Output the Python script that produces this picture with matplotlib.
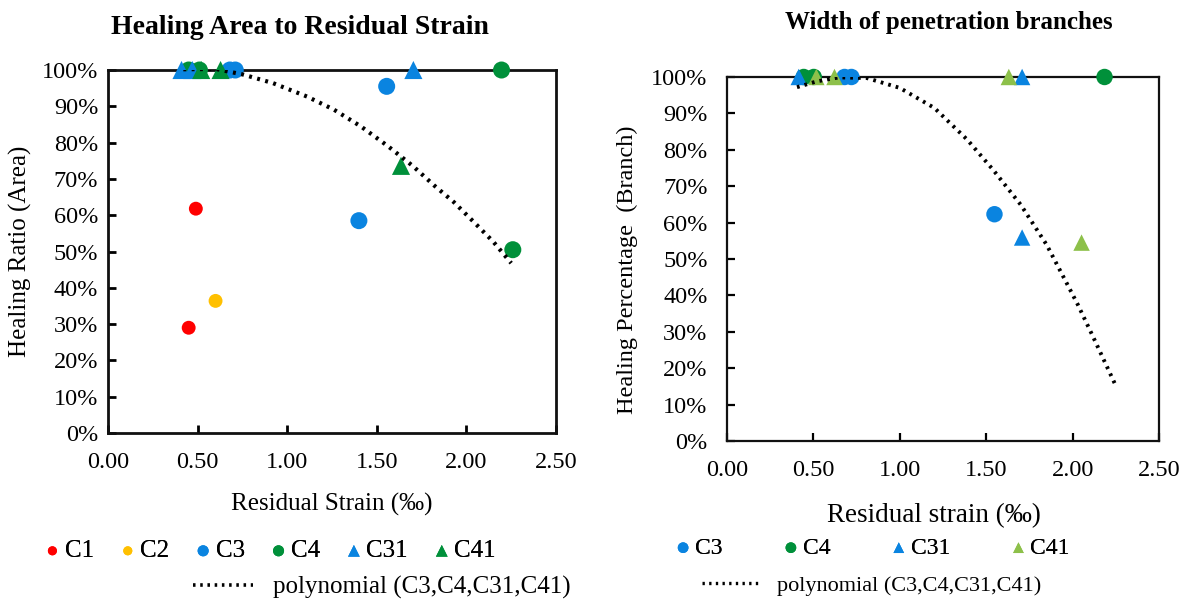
import matplotlib
matplotlib.use("Agg")
import matplotlib.pyplot as plt
from matplotlib.lines import Line2D

plt.rcParams['font.family'] = ['Liberation Serif', 'DejaVu Serif']

# ---- left chart: healing area ----
c1_x = [0.49, 0.45]
c1_y = [0.618, 0.29]
c2_x = [0.60]
c2_y = [0.364]
c3_x = [0.68, 0.71, 1.555, 1.40]
c3_y = [1.0, 1.0, 0.955, 0.585]
c4_x = [0.45, 0.51, 2.196, 2.259]
c4_y = [1.0, 1.0, 1.0, 0.505]
c31_x = [0.41, 0.47, 1.704]
c31_y = [1.0, 1.0, 1.0]
c41_x = [0.52, 0.628, 1.635]
c41_y = [1.0, 1.0, 0.736]
# trendline
trend_l_x = [0.42, 0.60, 0.75, 0.92, 1.11, 1.26, 1.41, 1.56, 1.70, 1.82, 1.93, 2.04, 2.15, 2.25]
trend_l_y = [1.002, 1.003, 0.988, 0.964, 0.927, 0.891, 0.845, 0.791, 0.736, 0.682, 0.636, 0.582, 0.527, 0.468]

# ---- right chart: penetration branches ----
r_c3_x = [0.68, 0.72, 1.548]
r_c3_y = [1.0, 1.0, 0.623]
r_c4_x = [0.444, 0.502, 2.185]
r_c4_y = [1.0, 1.0, 1.0]
r_c31_x = [0.415, 1.708, 1.708]
r_c31_y = [1.0, 1.0, 0.559]
r_c41_x = [0.517, 0.622, 1.631, 2.052]
r_c41_y = [1.0, 1.0, 1.0, 0.545]
trend_r_x = [0.405, 0.52, 0.65, 0.81, 1.0, 1.2, 1.39, 1.54, 1.70, 1.85, 1.97, 2.03, 2.12, 2.255]
trend_r_y = [0.972, 0.988, 0.999, 0.997, 0.970, 0.915, 0.828, 0.745, 0.649, 0.539, 0.430, 0.375, 0.285, 0.147]

xticks = [0, 0.5, 1.0, 1.5, 2.0, 2.5]
xtick_labels = ['0.00', '0.50', '1.00', '1.50', '2.00', '2.50']
yticks = [i / 10 for i in range(11)]
ytick_labels = ['%d%%' % (i * 10) for i in range(11)]

red = '#FF0000'
orange = '#FFC000'
blue = '#0A84E0'
green = '#00903A'
lgreen = '#8DC04A'

fig = plt.figure(figsize=(11.86, 6.01), dpi=100)
ax1 = fig.add_axes([0.0911, 0.2795, 0.3777, 0.604])
ax2 = fig.add_axes([0.613, 0.2662, 0.3642, 0.6057])

dot = (0, (0.7, 1.3))


def style(ax, lw, fs, ypad):
    ax.set_xlim(0, 2.5)
    ax.set_ylim(0, 1)
    ax.set_xticks(xticks)
    ax.set_xticklabels(xtick_labels)
    ax.set_yticks(yticks)
    ax.set_yticklabels(ytick_labels)
    for s in ax.spines.values():
        s.set_linewidth(lw)
        s.set_color('#111111')
    ax.tick_params(direction='in', length=6, width=lw, labelsize=fs,
                   top=False, right=False)
    ax.tick_params(axis='x', pad=14)
    ax.tick_params(axis='y', pad=ypad)


# left
s1 = ax1.scatter(c1_x, c1_y, s=100, color=red, edgecolors='none', clip_on=False, zorder=3)
s2 = ax1.scatter(c2_x, c2_y, s=100, color=orange, edgecolors='none', clip_on=False, zorder=3)
s3 = ax1.scatter(c3_x, c3_y, s=150, color=blue, edgecolors='none', clip_on=False, zorder=3)
s4 = ax1.scatter(c4_x, c4_y, s=150, color=green, edgecolors='none', clip_on=False, zorder=3)
s31 = ax1.scatter(c31_x, c31_y, s=170, marker='^', color=blue, edgecolors='none', clip_on=False, zorder=3)
s41 = ax1.scatter(c41_x, c41_y, s=170, marker='^', color=green, edgecolors='none', clip_on=False, zorder=3)
t1, = ax1.plot(trend_l_x, trend_l_y, color='black', lw=3.0, linestyle=dot, zorder=4)
style(ax1, 2.0, 17.5, 7)
ax1.set_xlabel('Residual Strain (‰)', fontsize=18)
ax1.set_ylabel('Healing Ratio (Area)', fontsize=18)
ax1.xaxis.set_label_coords(0.5, -0.165)
ax1.yaxis.set_label_coords(-0.17, 0.5)
fig.text(0.253, 0.955, 'Healing Area to Residual Strain', fontsize=20,
         fontweight='bold', ha='center', va='center')

# right
r3 = ax2.scatter(r_c3_x, r_c3_y, s=140, color=blue, edgecolors='none', clip_on=False, zorder=3)
r4 = ax2.scatter(r_c4_x, r_c4_y, s=140, color=green, edgecolors='none', clip_on=False, zorder=3)
r31 = ax2.scatter(r_c31_x, r_c31_y, s=140, marker='^', color=blue, edgecolors='none', clip_on=False, zorder=3)
r41 = ax2.scatter(r_c41_x, r_c41_y, s=140, marker='^', color=lgreen, edgecolors='none', clip_on=False, zorder=3)
t2, = ax2.plot(trend_r_x, trend_r_y, color='black', lw=2.8, linestyle=dot, zorder=4)
style(ax2, 1.6, 17.5, 14)
ax2.set_xlabel('Residual strain (‰)', fontsize=19.5)
ax2.set_ylabel('Healing Percentage  (Branch)', fontsize=17.5)
ax2.xaxis.set_label_coords(0.48, -0.17)
ax2.yaxis.set_label_coords(-0.205, 0.47)
fig.text(0.80, 0.963, 'Width of penetration branches', fontsize=18,
         fontweight='bold', ha='center', va='center')

# legends
poly_label = 'polynomial (C3,C4,C31,C41)'
leg1 = fig.legend([s1, s2, s3, s4, s31, s41], ['C1', 'C2', 'C3', 'C4', 'C31', 'C41'],
                  loc='center', bbox_to_anchor=(0.228, 0.083), ncol=6, frameon=False,
                  fontsize=18, markerscale=0.65, handlelength=0.6, handletextpad=0.2,
                  columnspacing=1.05)
fig.add_artist(leg1)
poly_h1 = Line2D([], [], color='black', lw=2.6, linestyle=dot)
fig.legend([poly_h1], [poly_label], loc='center', bbox_to_anchor=(0.322, 0.022),
           frameon=False, fontsize=18, handlelength=2.4)

leg2 = fig.legend([r3, r4, r31, r41], ['C3', 'C4', 'C31', 'C41'],
                  loc='center', bbox_to_anchor=(0.736, 0.088), ncol=4, frameon=False,
                  fontsize=17, markerscale=0.65, handlelength=0.6, handletextpad=0.2,
                  columnspacing=2.6)
fig.add_artist(leg2)
poly_h2 = Line2D([], [], color='black', lw=2.4, linestyle=dot)
fig.legend([poly_h2], [poly_label], loc='center', bbox_to_anchor=(0.735, 0.025),
           frameon=False, fontsize=16, handlelength=2.6)

fig.savefig('out.png', dpi=100)
